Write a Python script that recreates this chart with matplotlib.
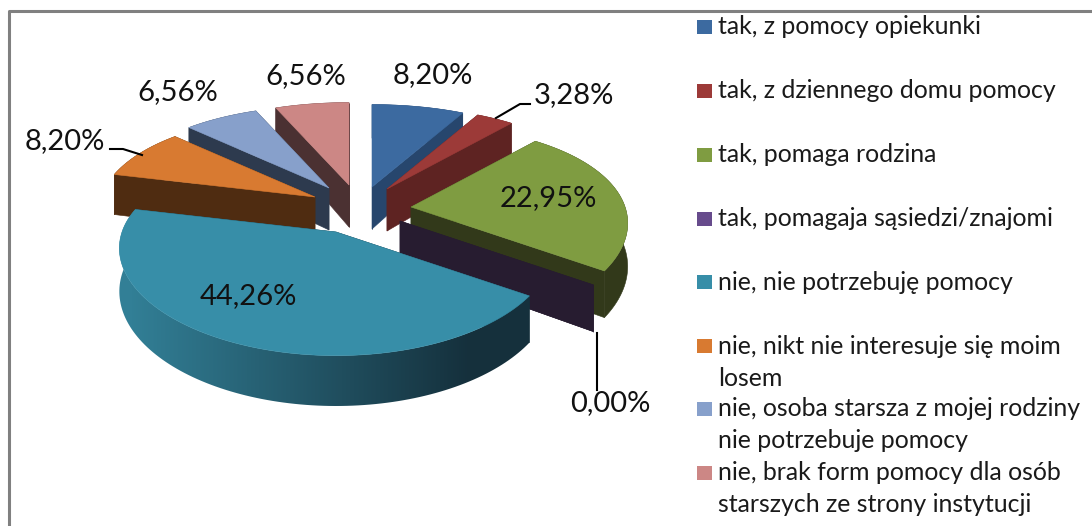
import numpy as np
import matplotlib
matplotlib.use("Agg")
import matplotlib.pyplot as plt
from matplotlib.colors import LinearSegmentedColormap
from matplotlib.patches import Polygon, Rectangle

plt.rcParams["font.family"] = ["Lato", "DejaVu Sans"]

# percentages, clockwise from 12 o'clock
values = [8.20, 3.28, 22.95, 0.00, 44.26, 8.20, 6.56, 6.56]
labels = [
    "tak, z pomocy opiekunki",
    "tak, z dziennego domu pomocy",
    "tak, pomaga rodzina",
    "tak, pomagaja sąsiedzi/znajomi",
    "nie, nie potrzebuję pomocy",
    "nie, nikt nie interesuje się moim\nlosem",
    "nie, osoba starsza z mojej rodziny\nnie potrzebuje pomocy",
    "nie, brak form pomocy dla osób\nstarszych ze strony instytucji",
]
top_colors = ["#3c6aa0", "#9c3a38", "#7f9c41", "#674b8c", "#378ea8", "#d87a31", "#87a0cb", "#cc8785"]
wall_colors = ["#27466d", "#5e2322", "#32391a", "#271c30", "#16323e", "#4f2c11", "#2d3a4e", "#4b3132"]

# where each exploded slice has its tip, in pixels
tips = [(372, 187), (387, 189), (411, 207), (400, 221), (336, 232), (315, 197), (329, 188), (349, 185)]
label_pos = [(433, 75), (574, 95), (548, 198), (610, 403), (248, 296), (65, 141), (178, 92), (306, 76)]
legend_y = [27, 91, 155, 219, 282, 346, 409, 473]

RX, RY, PERSP_X, PERSP_Y, HEIGHT = 214, 103, 0.16, 0.2, 42
teal_wall_left, teal_wall_right = "#327f96", "#15303c"

fig = plt.figure(figsize=(10.92, 5.26), dpi=100)
ax = fig.add_axes([0, 0, 1, 1])
ax.axis("off")


def rim(tip, theta):
    v = -np.cos(theta)
    fy = 1 + PERSP_Y * v
    return tip[0] + RX * (1 + PERSP_X * v) * np.sin(theta), tip[1] + RY * fy * v, fy


def fill(xs, ys, color, z):
    ax.fill(xs, ys, facecolor=color, edgecolor=color, lw=0.4, zorder=z)


edges = np.concatenate([[0], np.cumsum(values)]) / sum(values) * 2 * np.pi
teal_cmap = LinearSegmentedColormap.from_list("teal_wall", [teal_wall_left, teal_wall_right])

# back to front
order = [7, 6, 5, 0, 1, 2, 3, 4]
for z, i in enumerate(order):
    tip = tips[i]
    th = np.linspace(edges[i], edges[i + 1], 120)
    x, y, f = rim(tip, th)
    h = HEIGHT * f
    # the two flat walls from the tip out to the rim
    for e in (0, -1):
        fill([tip[0], x[e], x[e], tip[0]], [tip[1], y[e], y[e] + h[e], tip[1] + HEIGHT], wall_colors[i], z + 1)
    rim_xs = np.r_[x, x[::-1]]
    rim_ys = np.r_[y, (y + h)[::-1]]
    if i == 4:
        ramp = np.clip((np.arange(1092) - 130) / 340, 0, 1)
        grad = ax.imshow(ramp[None, :], cmap=teal_cmap, aspect="auto", vmin=0, vmax=1,
                         extent=(0, 1092, 526, 0), zorder=z + 1)
        grad.set_clip_path(Polygon(np.c_[rim_xs, rim_ys], transform=ax.transData))
    else:
        fill(rim_xs, rim_ys, wall_colors[i], z + 1)
    if values[i] > 0:
        fill(np.r_[tip[0], x], np.r_[tip[1], y], top_colors[i], z + 1)

ax.set_xlim(0, 1092)
ax.set_ylim(526, 0)

# leader lines
ax.plot([110, 123, 142], [149, 149, 155], color="black", lw=1.5, zorder=20)
ax.plot([496, 520, 530], [118, 104, 104], color="black", lw=1.5, zorder=20)
ax.plot([597, 597], [333, 390], color="black", lw=1.5, zorder=20)

for v, (lx, ly) in zip(values, label_pos):
    ax.text(lx, ly, f"{v:.2f}%".replace(".", ","), fontsize=21, color="#111111",
            ha="center", va="center", zorder=25)

for lab, c, ly in zip(labels, top_colors, legend_y):
    ax.add_patch(Rectangle((697, ly - 7), 15, 14, facecolor=c, edgecolor="none"))
    for n, line in enumerate(lab.split("\n")):
        ax.text(718, ly + n * 32, line, fontsize=17.9, color="#1a1a1a", ha="left", va="center")

# chart frame
ax.plot([9, 9, 1092], [526, 11, 11], color="#808080", lw=2.2, zorder=30)

fig.savefig("out.png", dpi=100)
plt.close(fig)
